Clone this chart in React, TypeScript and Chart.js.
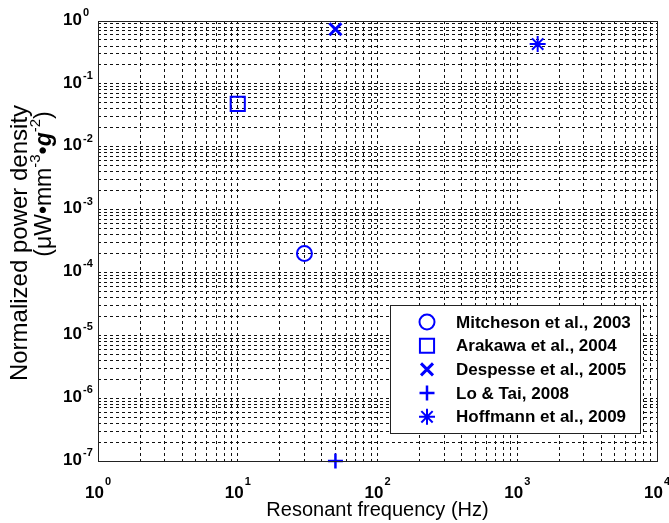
import React, { useEffect, useRef } from 'react';
import { Chart, registerables } from 'chart.js';
import { drawPoint } from 'chart.js/helpers';

Chart.register(...registerables);

// ---- data ----
const studies = [
  'Mitcheson et al., 2003',
  'Arakawa et al., 2004',
  'Despesse et al., 2005',
  'Lo & Tai, 2008',
  'Hoffmann et al., 2009',
];
const resonantFrequencyHz = [30, 10, 50, 50, 1400];
const normalizedPowerDensity = [2.0e-4, 4.8e-2, 7.4e-1, 1.0e-7, 4.3e-1];
const xDecadeExponents = [0, 1, 2, 3, 4];
const yDecadeExponents = [0, -1, -2, -3, -4, -5, -6, -7];
const xAxisTitle = 'Resonant frequency (Hz)';
const yAxisTitleLine1 = 'Normalized power density';

// ---- styles ----
const BLUE = '#0000ff';
const FONT = '"Liberation Sans", Arial, Helvetica, sans-serif';
const MARKERS = [
  { pointStyle: 'circle', radius: 7.5, borderWidth: 2 },
  { pointStyle: 'rect', radius: 10, borderWidth: 2 },
  { pointStyle: 'crossRot', radius: 8.5, borderWidth: 3 },
  { pointStyle: 'cross', radius: 7.5, borderWidth: 2.5 },
  { pointStyle: 'star', radius: 8, borderWidth: 2 },
];

function decadeTicks(exps: number[]) {
  const lo = Math.min(...exps);
  const hi = Math.max(...exps);
  const out: { value: number }[] = [];
  for (let e = lo; e < hi; e++) {
    for (let k = 1; k <= 9; k++) out.push({ value: k * Math.pow(10, e) });
  }
  out.push({ value: Math.pow(10, hi) });
  return out;
}

const decorations = {
  id: 'decorations',
  afterDraw(chart: any) {
    const { ctx, chartArea: a } = chart;
    const xs = chart.scales.x;
    const ys = chart.scales.y;
    ctx.save();
    ctx.setLineDash([]);

    // axes box
    ctx.strokeStyle = '#222';
    ctx.lineWidth = 1;
    ctx.strokeRect(a.left + 0.5, a.top + 0.5, a.right - a.left, a.bottom - a.top);

    const baseFont = `bold 17px ${FONT}`;
    const supFont = `bold 11px ${FONT}`;

    // y tick labels
    ctx.fillStyle = '#000';
    ctx.textBaseline = 'middle';
    for (const e of yDecadeExponents) {
      const py = ys.getPixelForValue(Math.pow(10, e));
      ctx.font = baseFont;
      ctx.textAlign = 'right';
      ctx.fillText('10', a.left - 16, py - 1);
      ctx.font = supFont;
      ctx.textAlign = 'left';
      ctx.fillText(String(e), a.left - 15, py - 8);
    }
    // x tick labels
    for (const e of xDecadeExponents) {
      const px = xs.getPixelForValue(Math.pow(10, e));
      ctx.font = baseFont;
      const wb = ctx.measureText('10').width;
      ctx.font = supFont;
      const ws = ctx.measureText(String(e)).width;
      const start = px - (wb + 1 + ws) / 2;
      ctx.textAlign = 'left';
      ctx.font = baseFont;
      ctx.fillText('10', start, a.bottom + 32);
      ctx.font = supFont;
      ctx.fillText(String(e), start + wb + 1, a.bottom + 21);
    }

    // x axis title
    ctx.font = `20px ${FONT}`;
    ctx.textAlign = 'center';
    ctx.fillText(xAxisTitle, (a.left + a.right) / 2, a.bottom + 49);

    // y axis title line 1
    ctx.save();
    ctx.translate(20, 243);
    ctx.rotate(-Math.PI / 2);
    ctx.font = `24px ${FONT}`;
    ctx.textAlign = 'center';
    ctx.fillText(yAxisTitleLine1, 0, 0);
    ctx.restore();

    // y axis title line 2 with superscripts
    const runs = [
      { t: '(\u03bcW\u2022mm', f: `23px ${FONT}`, dy: 0 },
      { t: '-3', f: `15px ${FONT}`, dy: -9 },
      { t: '\u2022', f: `23px ${FONT}`, dy: 0 },
      { t: 'g', f: `bold italic 23px ${FONT}`, dy: 0 },
      { t: '-2', f: `15px ${FONT}`, dy: -9 },
      { t: ')', f: `23px ${FONT}`, dy: 0 },
    ];
    let total = 0;
    for (const r of runs) {
      ctx.font = r.f;
      total += ctx.measureText(r.t).width;
    }
    ctx.save();
    ctx.translate(45, 184);
    ctx.rotate(-Math.PI / 2);
    ctx.textAlign = 'left';
    let cx = -total / 2;
    for (const r of runs) {
      ctx.font = r.f;
      ctx.fillText(r.t, cx, r.dy);
      cx += ctx.measureText(r.t).width;
    }
    ctx.restore();

    // legend
    const lw = 250;
    const lh = 128;
    const lx = a.right - 17 - lw;
    const ly = a.bottom - 28 - lh;
    ctx.fillStyle = '#fff';
    ctx.fillRect(lx, ly, lw, lh);
    ctx.strokeStyle = '#222';
    ctx.lineWidth = 1;
    ctx.strokeRect(lx + 0.5, ly + 0.5, lw, lh);
    chart.data.datasets.forEach((ds: any, i: number) => {
      const cy = ly + 17 + i * 23.7;
      ctx.strokeStyle = BLUE;
      ctx.fillStyle = 'rgba(0,0,0,0)';
      ctx.lineWidth = ds.pointBorderWidth;
      drawPoint(ctx, { pointStyle: ds.pointStyle, radius: ds.pointRadius, borderWidth: ds.pointBorderWidth, rotation: 0 } as any, lx + 37, cy);
      ctx.fillStyle = '#000';
      ctx.font = `bold 17px ${FONT}`;
      ctx.textAlign = 'left';
      ctx.textBaseline = 'middle';
      ctx.fillText(ds.label, lx + 66, cy + 1);
    });

    ctx.restore();
  },
};

export default function App() {
  const ref = useRef<HTMLCanvasElement>(null);
  useEffect(() => {
    const gridOpts = { color: '#111', lineWidth: 1, drawTicks: false };
    const borderOpts = { display: false, dash: [3, 3] };
    const chart = new Chart(ref.current as HTMLCanvasElement, {
      type: 'scatter',
      data: {
        datasets: studies.map((label, i) => ({
          label,
          data: [{ x: resonantFrequencyHz[i], y: normalizedPowerDensity[i] }],
          pointStyle: MARKERS[i].pointStyle as any,
          pointRadius: MARKERS[i].radius,
          pointHoverRadius: MARKERS[i].radius,
          pointBorderWidth: MARKERS[i].borderWidth,
          pointBorderColor: BLUE,
          borderColor: BLUE,
          pointBackgroundColor: 'rgba(0,0,0,0)',
          backgroundColor: 'rgba(0,0,0,0)',
          showLine: false,
          clip: false as any,
        })),
      },
      options: {
        animation: false,
        responsive: true,
        maintainAspectRatio: false,
        events: [],
        layout: { padding: { left: 98, right: 9, top: 21, bottom: 62 } },
        plugins: { legend: { display: false }, tooltip: { enabled: false } },
        scales: {
          x: {
            type: 'logarithmic',
            min: 1,
            max: 10000,
            afterBuildTicks: (s: any) => { s.ticks = decadeTicks(xDecadeExponents); },
            ticks: { display: false, autoSkip: false },
            grid: gridOpts,
            border: borderOpts,
          },
          y: {
            type: 'logarithmic',
            min: 1e-7,
            max: 1,
            afterBuildTicks: (s: any) => { s.ticks = decadeTicks(yDecadeExponents); },
            ticks: { display: false, autoSkip: false },
            grid: gridOpts,
            border: borderOpts,
          },
        },
      } as any,
      plugins: [decorations],
    });
    return () => chart.destroy();
  }, []);
  return (
    <div style={{ position: 'fixed', left: 0, top: 0, width: 669, height: 523, background: '#fff' }}>
      <canvas ref={ref} />
    </div>
  );
}
